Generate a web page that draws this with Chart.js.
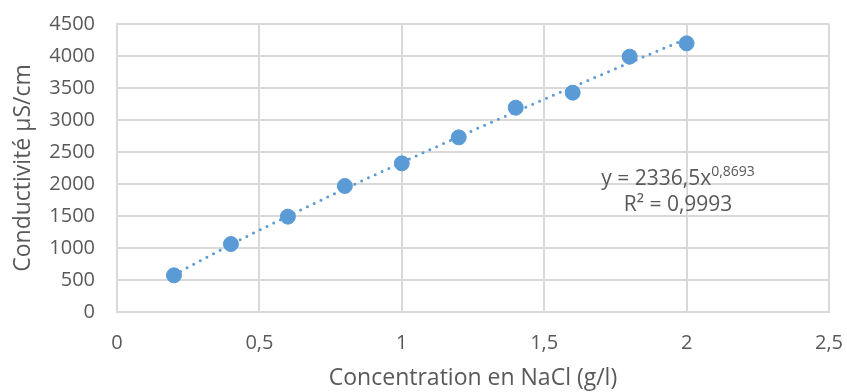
<!DOCTYPE html>
<html>
<head>
<meta charset="utf-8">
<script src="https://cdn.jsdelivr.net/npm/chart.js@4"></script>
<style>
  html, body { margin: 0; padding: 0; background: #fff; }
  #wrap { width: 847px; height: 392px; }
</style>
</head>
<body>
<div id="wrap"><canvas id="conductChart" width="847" height="392"></canvas></div>
<script>
// concentrations (g/l) and measured conductivity (µS/cm)
const concentrations = [0.2, 0.4, 0.6, 0.8, 1.0, 1.2, 1.4, 1.6, 1.8, 2.0];
const conductivity = [573, 1062, 1490, 1969, 2323, 2729, 3193, 3427, 3990, 4198];
// power trendline y = a * x^b
const fitA = 2336.5;
const fitB = 0.8693;
const fitR2 = '0,9993';

const blue = '#5B9BD5';
const grey = '#595959';
const fontFamily = '"Open Sans", Lato, sans-serif';

const trendPoints = [];
for (let i = 0; i <= 60; i++) {
    const x = 0.2 + i * (1.8 / 60);
    trendPoints.push({ x: x, y: fitA * Math.pow(x, fitB) });
}

const fmt = v => String(v).replace('.', ',');

// equation label drawn on top of the plot
const equationLabel = {
    id: 'equationLabel',
    afterDatasetsDraw(chart) {
        const ctx = chart.ctx;
        const xs = chart.scales.x, ys = chart.scales.y;
        const cx = xs.getPixelForValue(1.97);
        const y1 = ys.getPixelForValue(2000) + 1;
        const y2 = ys.getPixelForValue(1580);
        ctx.save();
        ctx.fillStyle = grey;
        ctx.textBaseline = 'alphabetic';
        const main = 'y = ' + fmt(fitA) + 'x';
        const sup = fmt(fitB);
        ctx.font = '14px ' + fontFamily;
        const supW = ctx.measureText(sup).width;
        ctx.font = '21px ' + fontFamily;
        const mainW = ctx.measureText(main).width;
        const start = cx - (mainW + supW) / 2;
        ctx.textAlign = 'left';
        ctx.fillText(main, start, y1);
        ctx.font = '14px ' + fontFamily;
        ctx.fillText(sup, start + mainW, y1 - 9);
        ctx.font = '21px ' + fontFamily;
        ctx.textAlign = 'center';
        ctx.fillText('R² = ' + fitR2, cx, y2);
        ctx.restore();
    }
};

// keep the plot area fixed regardless of tick label overhang
const noOverhang = s => { s.paddingTop = 0; s.paddingRight = 0; s.paddingLeft = 0; s.paddingBottom = 0; };

new Chart('conductChart', {
    type: 'scatter',
    data: {
        datasets: [
            {
                label: 'trend',
                data: trendPoints,
                showLine: true,
                borderColor: blue,
                borderWidth: 3,
                borderDash: [0, 7.5],
                borderCapStyle: 'round',
                pointRadius: 0,
                tension: 0,
                order: 2
            },
            {
                label: 'mesures',
                data: concentrations.map((c, i) => ({ x: c, y: conductivity[i] })),
                backgroundColor: blue,
                borderColor: blue,
                pointRadius: 7.5,
                pointHoverRadius: 7.5,
                order: 1
            }
        ]
    },
    plugins: [equationLabel],
    options: {
        responsive: false,
        animation: false,
        layout: { padding: { left: 10, right: 18, top: 24, bottom: 0 } },
        plugins: { legend: { display: false }, tooltip: { enabled: false } },
        scales: {
            x: {
                type: 'linear',
                min: 0, max: 2.5,
                ticks: {
                    stepSize: 0.5,
                    color: grey,
                    padding: 19,
                    font: { family: fontFamily, size: 20 },
                    callback: v => fmt(v)
                },
                grid: { color: '#d9d9d9', lineWidth: 2, drawTicks: false },
                border: { color: '#d9d9d9', width: 2 },
                title: {
                    display: true,
                    text: 'Concentration en NaCl (g/l)',
                    color: grey,
                    font: { family: fontFamily, size: 23 },
                    padding: 0
                },
                afterFit: s => { s.height = 80; noOverhang(s); }
            },
            y: {
                min: 0, max: 4500,
                ticks: {
                    stepSize: 500,
                    color: grey,
                    padding: 22,
                    font: { family: fontFamily, size: 20 },
                    callback: v => String(v)
                },
                grid: { color: '#d9d9d9', lineWidth: 2, drawTicks: false },
                border: { color: '#d9d9d9', width: 2 },
                title: {
                    display: true,
                    text: 'Conductivité µS/cm',
                    color: grey,
                    font: { family: fontFamily, size: 23 },
                    padding: 0
                },
                afterFit: s => { s.width = 107; noOverhang(s); }
            }
        }
    }
});
</script>
</body>
</html>
